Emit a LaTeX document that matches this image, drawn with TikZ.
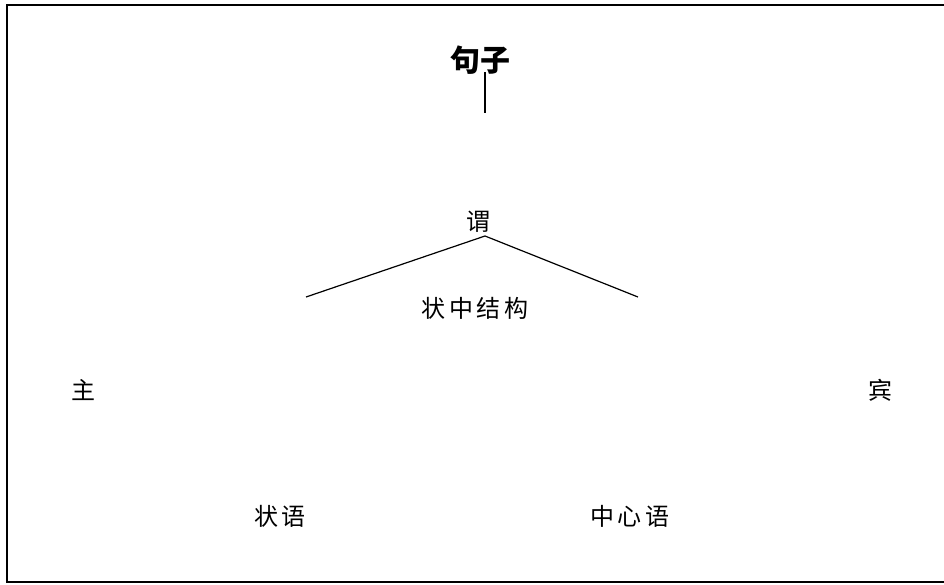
\documentclass[tikz,border=0pt]{standalone}
\usepackage{fontspec}
\setmainfont{Noto Sans CJK SC}
\newfontfamily\cjkspaced[LetterSpace=14]{Noto Sans CJK SC}
\usepackage{tikz}
\usetikzlibrary{
	positioning     % per posizionare i nodi
}

\begin{document}
\begin{tikzpicture}[x=1pt, y=-1pt, line width=1.2pt,
		word/.style={inner sep=0pt, font=\cjkspaced\fontsize{24}{28}\selectfont},
		root/.style={inner sep=0pt, font=\fontsize{30}{34}\selectfont\bfseries}]
		% --- Cornice ---
		\useasboundingbox (0,0) rectangle (944,584);
		\begin{scope}
			\clip (0,0) rectangle (944,584);
			\draw[line width=1.6pt] (7,5) rectangle (960,582);
		\end{scope}
		
		% --- Nodi ---
		\node[root] (frase) at (480,60) {句子};
		\node[word] (pred) at (478,222) {谓};
		\node[word] (strutt) at (475,308) {状中结构};
		\node[word] (sogg) at (83,390) {主};
		\node[word] (ogg) at (880,390) {宾};
		\node[word] (avv) at (280,516) {状语};
		\node[word] (centro) at (630,516) {中心语};
		
		% --- Estremi liberi delle linee ---
		\coordinate (cima) at (485,72);
		\coordinate (giu) at (485,113);
		\coordinate (vertice) at (485,236);
		\coordinate (sx) at (306,297);
		\coordinate (dx) at (638,297);
		
		% --- Linee ---
		\draw (cima) -- (giu);
		\draw (sx) -- (vertice) -- (dx);
	\end{tikzpicture}
\end{document}
